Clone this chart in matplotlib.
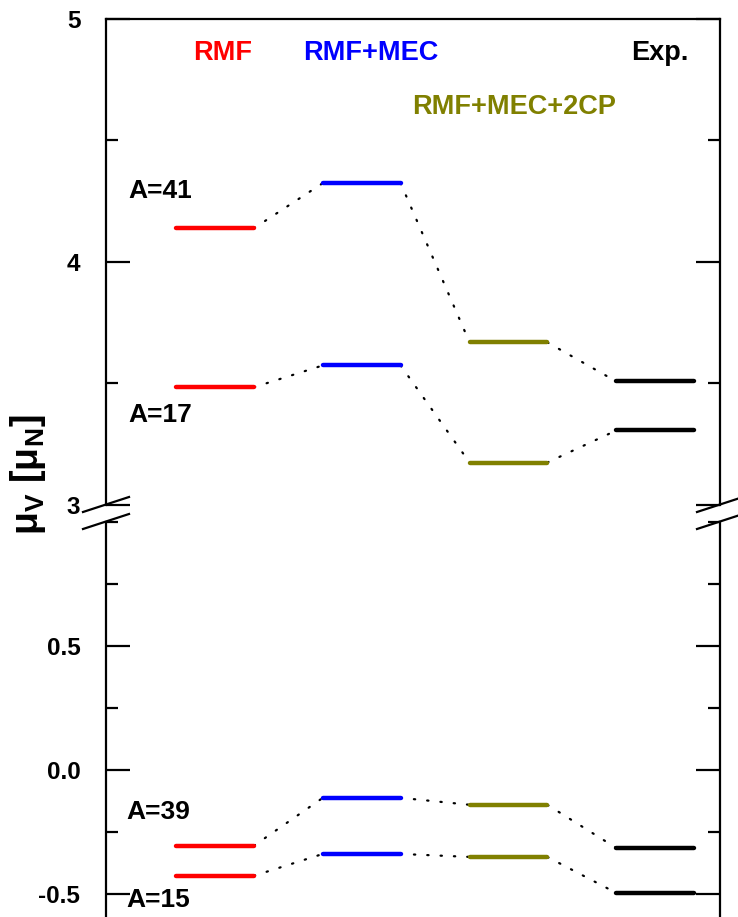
import matplotlib
matplotlib.use("Agg")
import matplotlib.pyplot as plt
from matplotlib.lines import Line2D
from matplotlib.ticker import MultipleLocator

plt.rcParams['font.family'] = ['Liberation Sans', 'DejaVu Sans']
plt.rcParams['font.weight'] = 'bold'
plt.rcParams['mathtext.fontset'] = 'custom'
plt.rcParams['mathtext.rm'] = 'Liberation Sans:bold'
plt.rcParams['mathtext.bf'] = 'Liberation Sans:bold'
plt.rcParams['mathtext.it'] = 'Liberation Sans:bold'

# ---- data ----
models = ["RMF", "RMF+MEC", "RMF+MEC+2CP", "Exp."]
model_colors = ["#ff0000", "#0000ff", "#808000", "#000000"]
A41 = [4.138, 4.324, 3.668, 3.507]
A17 = [3.483, 3.573, 3.173, 3.305]
A39 = [-0.306, -0.113, -0.141, -0.315]
A15 = [-0.427, -0.339, -0.351, -0.496]
upper_series = {"A=41": A41, "A=17": A17}
lower_series = {"A=39": A39, "A=15": A15}

W, H = 738, 917
fig = plt.figure(figsize=(W / 100, H / 100), dpi=100)

def fx(px):
    return px / W

def fy(py):
    return 1 - py / H

left, right = fx(106), fx(720)
ax_up = fig.add_axes([left, fy(504.5), right - left, fy(19) - fy(504.5)])
ax_lo = fig.add_axes([left, 0.0, right - left, fy(521.5)])

half = 0.265
xs = list(range(len(models)))
xlim = (-0.743, 3.442)

def draw(ax, series):
    for name, vals in series.items():
        for i in xs:
            ax.plot([i - half, i + half], [vals[i], vals[i]], color=model_colors[i],
                     lw=3.2, solid_capstyle='round', zorder=3)
        for i in xs[:-1]:
            ax.plot([i + half, i + 1 - half], [vals[i], vals[i + 1]], color='black',
                    lw=1.6, linestyle=(0, (0.6, 5.4)), dash_capstyle='round', zorder=2)
    ax.set_xlim(*xlim)
    ax.set_xticks([])
    for s in ax.spines.values():
        s.set_linewidth(1.6)
    ax.tick_params(axis='y', which='both', direction='in', left=True, right=True,
                   labelsize=17.5, pad=18.5, width=1.6)
    ax.tick_params(axis='y', which='major', length=17)
    ax.tick_params(axis='y', which='minor', length=8.5)

draw(ax_up, upper_series)
draw(ax_lo, lower_series)

ax_up.set_ylim(3, 5)
ax_up.yaxis.set_major_locator(MultipleLocator(1))
ax_up.yaxis.set_minor_locator(MultipleLocator(0.5))
ax_up.spines['bottom'].set_visible(False)

ax_lo.set_ylim(-0.593, 1.0)
ax_lo.set_yticks([-0.5, 0.0, 0.5])
ax_lo.set_yticklabels(["-0.5", "0.0", "0.5"])
ax_lo.yaxis.set_minor_locator(MultipleLocator(0.25))
ax_lo.spines['top'].set_visible(False)
ax_lo.spines['bottom'].set_visible(False)

# model labels
label_y = [53, 53, 107, 53]
label_dx = [0.05, 0.06, 0.04, 0.03]
for i, m in enumerate(models):
    ax_up.text(i + label_dx[i], 5 - (label_y[i] - 19) / 242.5, m, color=model_colors[i],
               fontsize=19.5, fontweight='bold', ha='center', va='center')

# A labels
a_fs = 19
ax_up.text(-0.375, 5 - (191 - 19) / 242.5, "A=41", fontsize=a_fs, fontweight='bold',
           ha='center', va='center')
ax_up.text(-0.375, 5 - (415 - 19) / 242.5, "A=17", fontsize=a_fs, fontweight='bold',
           ha='center', va='center')
ax_lo.text(-0.39, (770 - 812) / 248, "A=39", fontsize=a_fs, fontweight='bold',
           ha='center', va='center')
ax_lo.text(-0.39, (770 - 900) / 248, "A=15", fontsize=a_fs, fontweight='bold',
           ha='center', va='center')

# y label
fig.text(fx(28), fy(475), r"μ$_{\mathbf{V}}$ [μ$_{\mathbf{N}}$]", rotation=90,
         fontsize=27, fontweight='bold', ha='center', va='center')

# break marks
for xc in (106, 720):
    for yc in (504.5, 521.5):
        fig.add_artist(Line2D([fx(xc - 23), fx(xc + 23)], [fy(yc + 7.5), fy(yc - 7.5)],
                              color='black', lw=1.6, transform=fig.transFigure))

fig.savefig("out.png", dpi=100)
